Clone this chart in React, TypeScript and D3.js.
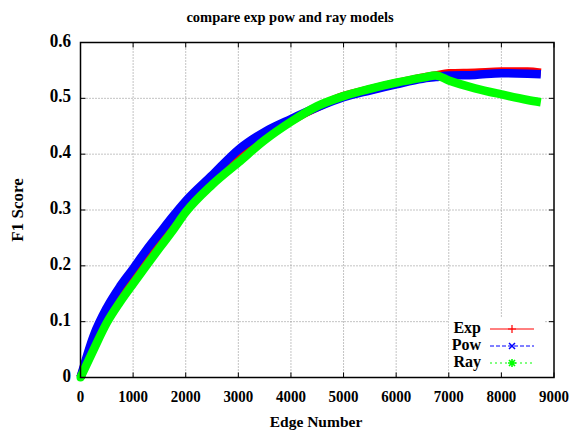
import React from "react";
import * as d3 from "d3";

// edge counts sampled along the curves
const edges = [0, 250, 500, 750, 1000, 1250, 1500, 1750, 2000, 2500, 3000, 3500, 4000, 4500, 5000, 5500, 6000, 6500, 6750, 7000, 7500, 8000, 8500, 8750];

const expF1 = [0, 0.065, 0.115, 0.15, 0.182, 0.213, 0.243, 0.273, 0.305, 0.35, 0.395, 0.432, 0.46, 0.484, 0.504, 0.516, 0.527, 0.537, 0.541, 0.545, 0.546, 0.548, 0.548, 0.546];
const powF1 = [0, 0.075, 0.125, 0.163, 0.195, 0.228, 0.258, 0.288, 0.316, 0.362, 0.408, 0.44, 0.463, 0.484, 0.502, 0.514, 0.525, 0.535, 0.538, 0.541, 0.542, 0.545, 0.544, 0.543];
const rayF1 = [0, 0.05, 0.098, 0.135, 0.168, 0.2, 0.232, 0.263, 0.296, 0.345, 0.385, 0.425, 0.458, 0.486, 0.504, 0.517, 0.528, 0.537, 0.541, 0.532, 0.518, 0.507, 0.497, 0.493];

const xTicks = [0, 1000, 2000, 3000, 4000, 5000, 6000, 7000, 8000, 9000];
const yTicks = [0, 0.1, 0.2, 0.3, 0.4, 0.5, 0.6];

const series = [
  { name: "Exp", values: expF1, color: "#ff0000", dash: "none" },
  { name: "Pow", values: powF1, color: "#0000ff", dash: "4,2" },
  { name: "Ray", values: rayF1, color: "#00ff00", dash: "2,3" },
];

const W = 572;
const H = 433;
const left = 80.5;
const right = 554;
const top = 42.5;
const bottom = 377.5;

const font = "'Liberation Serif', 'Times New Roman', serif";

const App = () => {
  const x = d3.scaleLinear().domain([0, 9000]).range([left, right]);
  const y = d3.scaleLinear().domain([0, 0.6]).range([bottom, top]);

  const line = d3
    .line<number>()
    .x((_, i) => x(edges[i]))
    .y((d) => y(d))
    .curve(d3.curveMonotoneX);

  const legendY = [329, 346, 363];

  return (
    <svg width={W} height={H} style={{ position: "absolute", left: 0, top: 0, background: "#fff" }}>
      <rect x={0} y={0} width={W} height={H} fill="#fff" />
      {/* grid */}
      {xTicks.slice(1, -1).map((t) => (
        <line key={"gx" + t} x1={x(t)} x2={x(t)} y1={top} y2={bottom} stroke="#888" strokeDasharray="1,2" />
      ))}
      {yTicks.slice(1, -1).map((t) => (
        <line key={"gy" + t} x1={left} x2={right} y1={y(t)} y2={y(t)} stroke="#888" strokeDasharray="1,2" />
      ))}

      {/* curves */}
      {series.map((s) => (
        <path
          key={s.name}
          d={line(s.values) || ""}
          fill="none"
          stroke={s.color}
          strokeWidth={8.5}
          strokeLinejoin="round"
          strokeLinecap="butt"
        />
      ))}
      <circle cx={x(0)} cy={y(0)} r={4} fill="#00ff00" />

      {/* legend box hides the grid */}
      <rect x={449} y={318} width={96} height={54} fill="#fff" />
      {series.map((s, i) => {
        const ly = legendY[i];
        return (
          <g key={"lg" + s.name}>
            <text x={481} y={ly} textAnchor="end" dominantBaseline="middle" fontFamily={font} fontWeight="bold" fontSize={16}>
              {s.name}
            </text>
            <line x1={490} x2={534} y1={ly} y2={ly} stroke={s.color} strokeWidth={1} strokeDasharray={s.dash} />
            {i === 0 && (
              <path d={`M512,${ly - 4}V${ly + 4}M508,${ly}H516`} stroke={s.color} strokeWidth={1.2} />
            )}
            {i === 1 && (
              <path d={`M509,${ly - 3}L515,${ly + 3}M509,${ly + 3}L515,${ly - 3}`} stroke={s.color} strokeWidth={1.5} />
            )}
            {i === 2 && (
              <path
                d={`M512,${ly - 4}V${ly + 4}M508,${ly}H516M509,${ly - 3}L515,${ly + 3}M509,${ly + 3}L515,${ly - 3}`}
                stroke={s.color}
                strokeWidth={1.6}
              />
            )}
          </g>
        );
      })}

      {/* ticks on all sides */}
      {xTicks.map((t) => (
        <g key={"tx" + t}>
          <line x1={x(t)} x2={x(t)} y1={bottom} y2={bottom - 5} stroke="#000" />
          <line x1={x(t)} x2={x(t)} y1={top} y2={top + 5} stroke="#000" />
          <text
            transform={`translate(${x(t)},402) scale(0.88,1)`}
            textAnchor="middle"
            fontFamily={font}
            fontWeight="bold"
            fontSize={17}
          >
            {t}
          </text>
        </g>
      ))}
      {yTicks.map((t) => (
        <g key={"ty" + t}>
          <line x1={left} x2={left + 5} y1={y(t)} y2={y(t)} stroke="#000" />
          <line x1={right} x2={right - 5} y1={y(t)} y2={y(t)} stroke="#000" />
          <text
            transform={`translate(71,${y(t)}) scale(0.95,1)`}
            textAnchor="end"
            dominantBaseline="middle"
            fontFamily={font}
            fontWeight="bold"
            fontSize={18}
          >
            {t === 0 ? "0" : t.toFixed(1)}
          </text>
        </g>
      ))}

      {/* frame */}
      <rect x={left} y={top} width={right - left} height={bottom - top} fill="none" stroke="#000" strokeWidth={1.5} />

      <text x={290} y={22} textAnchor="middle" fontFamily={font} fontWeight="bold" fontSize={14.5}>
        compare exp pow and ray models
      </text>
      <text x={316} y={427} textAnchor="middle" fontFamily={font} fontWeight="bold" fontSize={15.5}>
        Edge Number
      </text>
      <text
        transform={`translate(23,${(top + bottom) / 2}) rotate(-90)`}
        textAnchor="middle"
        fontFamily={font}
        fontWeight="bold"
        fontSize={17}
      >
        F1 Score
      </text>
    </svg>
  );
};

export default App;
